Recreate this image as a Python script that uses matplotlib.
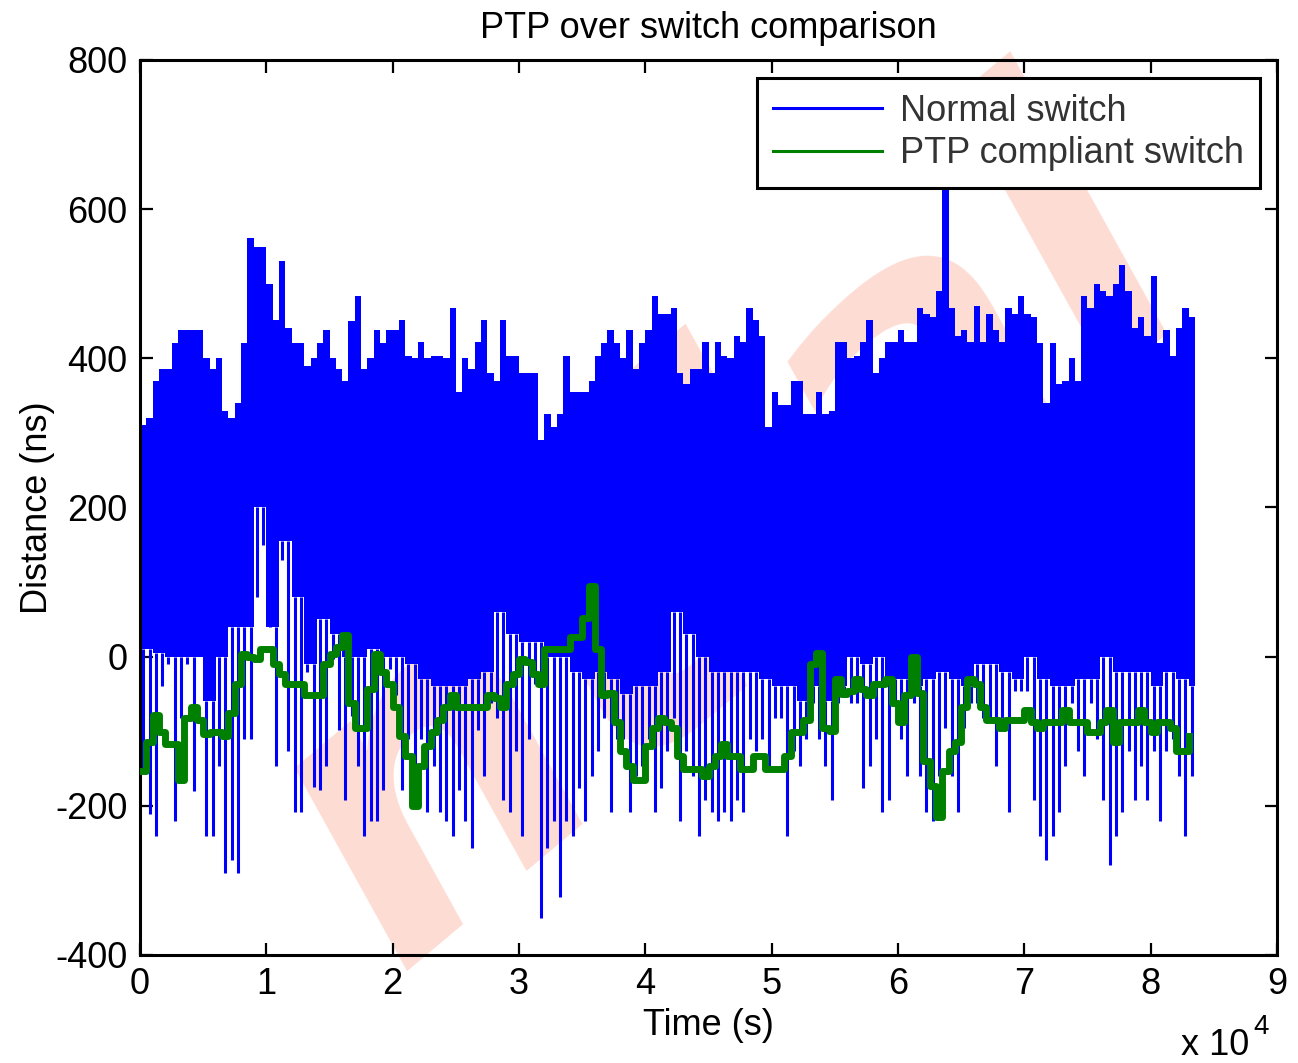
import numpy as np
import matplotlib
matplotlib.use("Agg")
import matplotlib.pyplot as plt
from matplotlib.lines import Line2D

plt.rcParams['font.family'] = ['Liberation Sans Narrow', 'Liberation Sans', 'DejaVu Sans']
plt.rcParams['axes.unicode_minus'] = False

# ---------------------------------------------------------------- data
STEP = 500.0            # s, one column of the dense blue trace
# blue: per-column maxima (ns)
BLUE_UPPER = [
    310, 320, 370, 386, 386, 420, 438, 438, 438, 438, 400, 386, 400, 330, 320, 340, 420, 561, 549, 549, 500, 451, 530, 440, 420, 420, 390, 400,
    420, 438, 400, 386, 370, 450, 483, 386, 400, 438, 420, 438, 438, 451, 403, 400, 422, 400, 403, 403, 400, 468, 355, 400, 386, 422, 451, 380,
    370, 451, 403, 403, 380, 380, 380, 290, 325, 308, 325, 403, 355, 355, 355, 370, 403, 420, 438, 420, 400, 438, 386, 420, 438, 483, 460, 460,
    468, 380, 365, 386, 386, 422, 380, 422, 403, 400, 430, 422, 468, 451, 430, 308, 355, 338, 338, 370, 370, 325, 325, 355, 325, 330, 422, 422,
    400, 403, 422, 451, 380, 400, 422, 422, 438, 422, 422, 468, 460, 455, 490, 627, 468, 430, 438, 422, 470, 422, 460, 438, 422, 468, 460, 483,
    460, 455, 420, 340, 420, 365, 370, 400, 370, 483, 468, 500, 490, 483, 500, 525, 490, 440, 455, 430, 510, 420, 438, 403, 440, 468, 455,
]
# blue: per-column minima (ns)
BLUE_LOWER = [
    -150, -211, -241, -40, -10, -220, -82, -10, -180, 0, -241, -241, -147, -290, -273, -290, -111, -111, 80, 150, 78, -147, 130, -127, -208, -208, -20, -175,
    -179, -147, -3, -98, -192, -80, -147, -241, -221, -221, -179, -17, -52, -179, -111, -147, -111, -208, -147, -208, -221, -241, -179, -221, -257, -98, -160, -62,
    -82, -192, -208, -127, -241, -111, -36, -351, -257, -221, -322, -221, -241, -176, -221, -160, -127, -82, -208, -111, -111, -208, -160, -147, -111, -208, -176, -127,
    -82, -221, -127, -160, -241, -192, -208, -221, -208, -221, -192, -208, -111, -127, -111, -147, -82, -82, -241, -127, -147, -111, -62, -111, -147, -192, -62, -46,
    -62, -62, -176, -147, -111, -208, -192, -62, -111, -160, -62, -160, -208, -221, -160, -95, -160, -208, -95, -62, -62, -82, -82, -147, -82, -208, -46, -46,
    -46, -192, -241, -273, -241, -208, -147, -62, -127, -160, -62, -111, -192, -280, -241, -208, -127, -192, -147, -192, -127, -221, -127, -111, -160, -241, -160,
]
# blue: lower edge of the solid band, per 1000 s (ns)
BLUE_BAND_LO = [
    10, 5, 0, 0, 0, -60, 0, 40, 40, 200, 40, 155, 80, -10,
    50, 30, 0, 0, 10, 0, 0, -10, -30, -40, -40, -40, -30, -20,
    60, 30, 20, 20, 0, 0, -20, -30, -20, -30, -50, -40, -40, -20,
    60, 30, 0, -20, -20, -20, -20, -30, -40, -40, -60, -40, -60, -40,
    0, -10, 0, -30, -30, -40, -30, -20, -30, -40, -10, -10, -20, -30,
    0, -30, -40, -40, -30, -30, 0, -20, -20, -20, -40, -20, -30, -40,
]
# green: PTP compliant switch, per 500 s (ns)
GREEN = [
    -153, -115, -78, -101, -117, -117, -166, -82, -68, -85, -104, -101, -101, -107, -75, -36, 3, 0, -3, 10, 10, -10, -23, -36, -36, -36, -52, -52,
    -52, -10, 3, 13, 29, -62, -95, -95, -43, 3, -20, -36, -68, -107, -133, -200, -147, -120, -101, -85, -68, -52, -68, -68, -68, -68, -68, -52,
    -56, -68, -36, -23, -3, -7, -23, -36, 10, 10, 10, 10, 26, 26, 52, 95, 10, -52, -49, -88, -127, -147, -166, -166, -120, -95, -82, -88,
    -95, -133, -150, -150, -150, -160, -147, -133, -117, -133, -133, -150, -150, -133, -133, -150, -150, -150, -133, -101, -101, -85, -10, 5, -95, -100, -30, -50,
    -46, -30, -43, -52, -36, -36, -30, -62, -88, -52, 0, -49, -140, -173, -215, -153, -127, -114, -68, -30, -36, -68, -85, -85, -95, -85, -85, -85,
    -72, -88, -95, -88, -88, -88, -72, -88, -88, -88, -101, -101, -88, -72, -114, -88, -88, -88, -72, -88, -101, -88, -88, -95, -127, -127, -107,
]
LABELS = ["Normal switch", "PTP compliant switch"]
BLUE, GREEN_C = "#0000ff", "#008000"

FS = 26

# ---------------------------------------------------------------- figure
fig = plt.figure(figsize=(12.98, 10.63), dpi=100)
# background watermark (only its visible tail), sits behind the axes
fig.text(0.56, 0.49, "ntial", rotation=40, ha="center", va="center",
         fontsize=300, style="italic", fontweight="bold",
         color="#fddcd4", family="DejaVu Sans", zorder=-5)
ax = fig.add_axes([0.1079, 0.1016, 0.8759, 0.8420])
ax.patch.set_alpha(0)

up = np.array(BLUE_UPPER, float)
lo = np.array(BLUE_LOWER, float)
n = len(up)
t = np.arange(n) * STEP
band = np.repeat(np.array(BLUE_BAND_LO, float), 2)[:n]

# solid part of the noisy trace, then the downward spikes
te = np.append(t, t[-1] + STEP)
ax.fill_between(te, np.append(band, band[-1]), np.append(up, up[-1]),
                step="post", color=BLUE, lw=0, zorder=2)
ax.vlines(t + STEP / 2, band, lo, color=BLUE, lw=2.2, zorder=2)

g = np.array(GREEN, float)
tg = np.arange(len(g)) * STEP
ax.plot(tg, g, color=GREEN_C, lw=5, drawstyle="steps-post", zorder=3)

ax.set_xlim(0, 90000)
ax.set_ylim(-400, 800)
ax.set_xticks(np.arange(0, 90001, 10000))
ax.set_xticklabels([str(i) for i in range(10)])
ax.set_yticks(np.arange(-400, 801, 200))
ax.tick_params(direction="in", length=9, width=1.6, labelsize=FS, pad=9,
               top=True, right=True)
for s in ax.spines.values():
    s.set_linewidth(2.2)

ax.set_title("PTP over switch comparison", fontsize=FS, pad=16)
ax.set_xlabel("Time (s)", fontsize=FS, labelpad=4)
ax.set_ylabel("Distance (ns)", fontsize=FS, labelpad=0)
ax.text(0.976, -0.112, "x 10", transform=ax.transAxes, fontsize=FS,
        ha="right", va="baseline")
ax.text(0.979, -0.088, "4", transform=ax.transAxes, fontsize=FS - 6,
        ha="left", va="baseline")

handles = [Line2D([], [], color=BLUE, lw=2.2), Line2D([], [], color=GREEN_C, lw=2.2)]
leg = ax.legend(handles, LABELS, loc="upper right", bbox_to_anchor=(0.985, 0.98),
                borderaxespad=0, fontsize=FS, handlelength=3.0, handletextpad=0.5,
                labelspacing=0.2, borderpad=0.45, fancybox=False, framealpha=1)
leg.get_frame().set_edgecolor("black")
leg.get_frame().set_linewidth(2.2)
for txt in leg.get_texts():
    txt.set_color("#333333")

fig.savefig("out.png", dpi=100)
